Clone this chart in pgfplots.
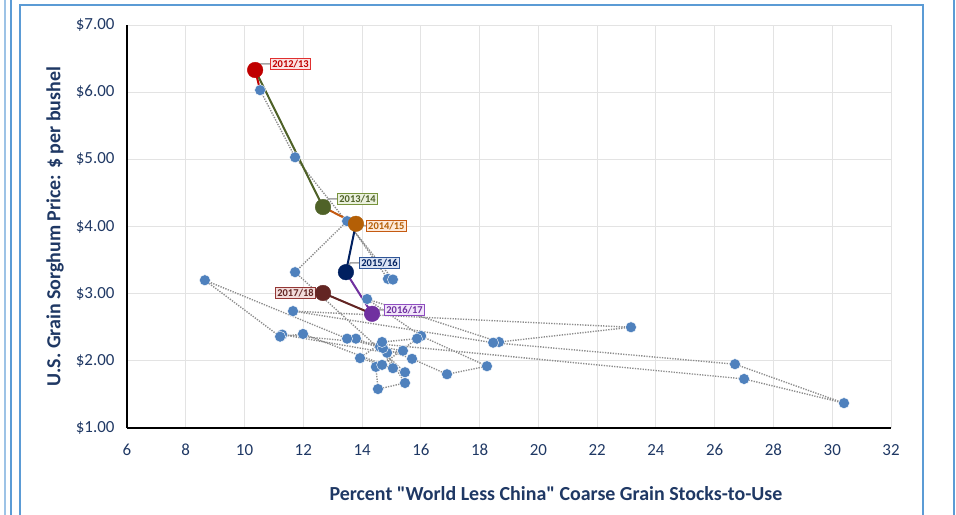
\documentclass[border=0pt]{standalone}
\usepackage{fontspec}
\setmainfont{Carlito}
\usepackage{pgfplots}
\usepackage{pgfplotstable}
\pgfplotsset{compat=1.18}

\definecolor{navytxt}{HTML}{1F3864}
\definecolor{gridgray}{HTML}{E3E3E3}
\definecolor{ptblue}{HTML}{4F81BD}
\definecolor{dotgray}{HTML}{8C8C8C}
\definecolor{leadgray}{HTML}{A6A6A6}
\definecolor{frameblue}{HTML}{5B9BD5}
\definecolor{framelight}{HTML}{9DC3E6}
\definecolor{cA}{HTML}{C00000}
\definecolor{cB}{HTML}{4F6228}
\definecolor{cC}{HTML}{B45F06}
\definecolor{cD}{HTML}{002060}
\definecolor{cE}{HTML}{7030A0}
\definecolor{cF}{HTML}{632523}
\definecolor{fA}{HTML}{FBE4E4}
\definecolor{fB}{HTML}{EBF1DE}
\definecolor{fC}{HTML}{FDE9D9}
\definecolor{fD}{HTML}{DAE3F3}
\definecolor{fE}{HTML}{F2E6FA}
\definecolor{fF}{HTML}{F2DCDB}
\definecolor{bA}{HTML}{E03030}
\definecolor{bB}{HTML}{77933C}
\definecolor{bC}{HTML}{C55A11}
\definecolor{bD}{HTML}{2F5597}
\definecolor{bE}{HTML}{8E4CC0}
\definecolor{bF}{HTML}{953735}

% all marketing years in order (1975/76 - 2017/18)
\pgfplotstableread{
x y
13.79 2.33
15.70 2.03
16.89 1.80
18.25 1.92
16.01 2.37
14.17 2.92
18.66 2.28
23.15 2.50
11.65 2.74
18.46 2.27
26.69 1.95
30.40 1.37
27.00 1.73
11.28 2.39
14.85 2.12
15.39 2.15
14.61 2.21
15.05 1.89
11.99 2.40
11.21 2.36
8.65 3.20
13.49 2.33
14.71 2.19
15.46 1.67
14.54 1.58
14.47 1.91
14.68 1.94
15.87 2.33
14.68 2.28
13.93 2.04
15.46 1.83
11.72 3.32
13.49 4.08
14.88 3.22
15.05 3.21
11.72 5.03
10.53 6.03
10.36 6.33
12.67 4.29
13.79 4.04
13.45 3.32
14.34 2.70
12.67 3.01
}\allyears

% historical years (1975/76 - 2011/12)
\pgfplotstableread{
x y
13.79 2.33
15.70 2.03
16.89 1.80
18.25 1.92
16.01 2.37
14.17 2.92
18.66 2.28
23.15 2.50
11.65 2.74
18.46 2.27
26.69 1.95
30.40 1.37
27.00 1.73
11.28 2.39
14.85 2.12
15.39 2.15
14.61 2.21
15.05 1.89
11.99 2.40
11.21 2.36
8.65 3.20
13.49 2.33
14.71 2.19
15.46 1.67
14.54 1.58
14.47 1.91
14.68 1.94
15.87 2.33
14.68 2.28
13.93 2.04
15.46 1.83
11.72 3.32
13.49 4.08
14.88 3.22
15.05 3.21
11.72 5.03
10.53 6.03
}\histyears

\begin{document}
\begin{tikzpicture}[x=1bp,y=1bp]
\begin{axis}[
  at={(127bp,87bp)}, anchor=south west,
  scale only axis, width=764bp, height=403bp,
  xmin=6, xmax=32, ymin=1, ymax=7,
  xtick={6,8,...,32}, ytick={1,2,3,4,5,6,7},
  yticklabels={\$1.00,\$2.00,\$3.00,\$4.00,\$5.00,\$6.00,\$7.00},
  /pgf/number format/assume math mode=true,
  axis lines*=left,
  x axis line style={line width=2.2bp, black},
  y axis line style={line width=1.3bp, black},
  major tick length=0pt, tick style={draw=none},
  grid=major, major grid style={draw=gridgray, line width=0.9bp},
  ticklabel style={font=\fontsize{17}{19}\selectfont, text=navytxt},
  xticklabel style={text height=12bp, text depth=0bp, yshift=-12bp},
  yticklabel style={xshift=-9bp},
  xlabel={Percent \textquotedbl World Less China\textquotedbl{} Coarse Grain Stocks-to-Use},
  ylabel={U.S. Grain Sorghum Price: \$ per bushel},
  every axis x label/.style={at={(axis description cs:0.5615,-0.1638)}, anchor=center, font=\bfseries\fontsize{20}{22}\selectfont, text=navytxt},
  every axis y label/.style={at={(axis description cs:-0.0942,0.5)}, anchor=center, rotate=90, font=\bfseries\fontsize{20}{22}\selectfont, text=navytxt},
  clip=false,
]
% dotted path through all years
\addplot[draw=dotgray, line width=1.4bp, dash pattern=on 1.3bp off 1.3bp, no marks] table[x=x,y=y] {\allyears};
% coloured recent segments
\addplot[draw=cA, line width=2bp, no marks] coordinates {(10.53,6.03) (10.36,6.33)};
\addplot[draw=cB, line width=2bp, no marks] coordinates {(10.36,6.33) (12.67,4.29)};
\addplot[draw=bC, line width=2bp, no marks] coordinates {(12.67,4.29) (13.79,4.04)};
\addplot[draw=cD, line width=2bp, no marks] coordinates {(13.79,4.04) (13.45,3.32)};
\addplot[draw=cE, line width=2bp, no marks] coordinates {(13.45,3.32) (14.34,2.70)};
\addplot[draw=cF, line width=2bp, no marks] coordinates {(14.34,2.70) (12.67,3.01)};
% historical points
\addplot[only marks, mark=*, mark size=5.5bp, mark options={fill=ptblue, draw=white, line width=0.4bp}] table[x=x,y=y] {\histyears};
% highlighted years
\addplot[only marks, mark=*, mark size=7.8bp, mark options={fill=cA, draw=cA}] coordinates {(10.36,6.33)};
\addplot[only marks, mark=*, mark size=7.8bp, mark options={fill=cB, draw=cB}] coordinates {(12.67,4.29)};
\addplot[only marks, mark=*, mark size=7.8bp, mark options={fill=cC, draw=cC}] coordinates {(13.79,4.04)};
\addplot[only marks, mark=*, mark size=7.8bp, mark options={fill=cD, draw=cD}] coordinates {(13.45,3.32)};
\addplot[only marks, mark=*, mark size=7.8bp, mark options={fill=cE, draw=cE}] coordinates {(14.34,2.70)};
\addplot[only marks, mark=*, mark size=7.8bp, mark options={fill=cF, draw=cF}] coordinates {(12.67,3.01)};
% leader lines and labels
\tikzset{lab/.style={font=\bfseries\fontsize{10.5}{12}\selectfont, inner sep=1.8bp, line width=1bp}}
\draw[leadgray, line width=1.5bp] (axis cs:10.36,6.33) -- (axis cs:10.55,6.42) -- (axis cs:10.87,6.42);
\node[lab, anchor=west, draw=bA, fill=fA, text=cA] at (axis cs:10.87,6.42) {2012/13};
\draw[leadgray, line width=1.5bp] (axis cs:12.67,4.29) -- (axis cs:12.85,4.41) -- (axis cs:13.15,4.41);
\node[lab, anchor=west, draw=bB, fill=fB, text=cB] at (axis cs:13.15,4.41) {2013/14};
\draw[leadgray, line width=1.5bp] (axis cs:13.79,4.04) -- (axis cs:14.13,4.01);
\node[lab, anchor=west, draw=bC, fill=fC, text=cC] at (axis cs:14.13,4.01) {2014/15};
\draw[leadgray, line width=1.5bp] (axis cs:13.45,3.32) -- (axis cs:13.6,3.46) -- (axis cs:13.90,3.46);
\node[lab, anchor=west, draw=bD, fill=fD, text=cD] at (axis cs:13.90,3.46) {2015/16};
\draw[leadgray, line width=1.5bp] (axis cs:14.34,2.70) -- (axis cs:14.5,2.76) -- (axis cs:14.75,2.76);
\node[lab, anchor=west, draw=bE, fill=fE, text=cE] at (axis cs:14.75,2.76) {2016/17};
\draw[leadgray, line width=1.5bp] (axis cs:12.67,3.01) -- (axis cs:12.43,3.01);
\node[lab, anchor=east, draw=bF, fill=fF, text=cF] at (axis cs:12.43,3.01) {2017/18};
\end{axis}
% outer frame
\draw[framelight, line width=1.5bp] (5,0) -- (5,515);
\draw[frameblue, line width=1.5bp] (11,0) -- (11,515);
\draw[frameblue, line width=2bp] (20,0) -- (20,510) -- (923,510) -- (923,0);
\draw[frameblue, line width=1.5bp] (954,0) -- (954,515);
\pgfresetboundingbox
\useasboundingbox (0,0) rectangle (956,515);
\end{tikzpicture}
\end{document}
